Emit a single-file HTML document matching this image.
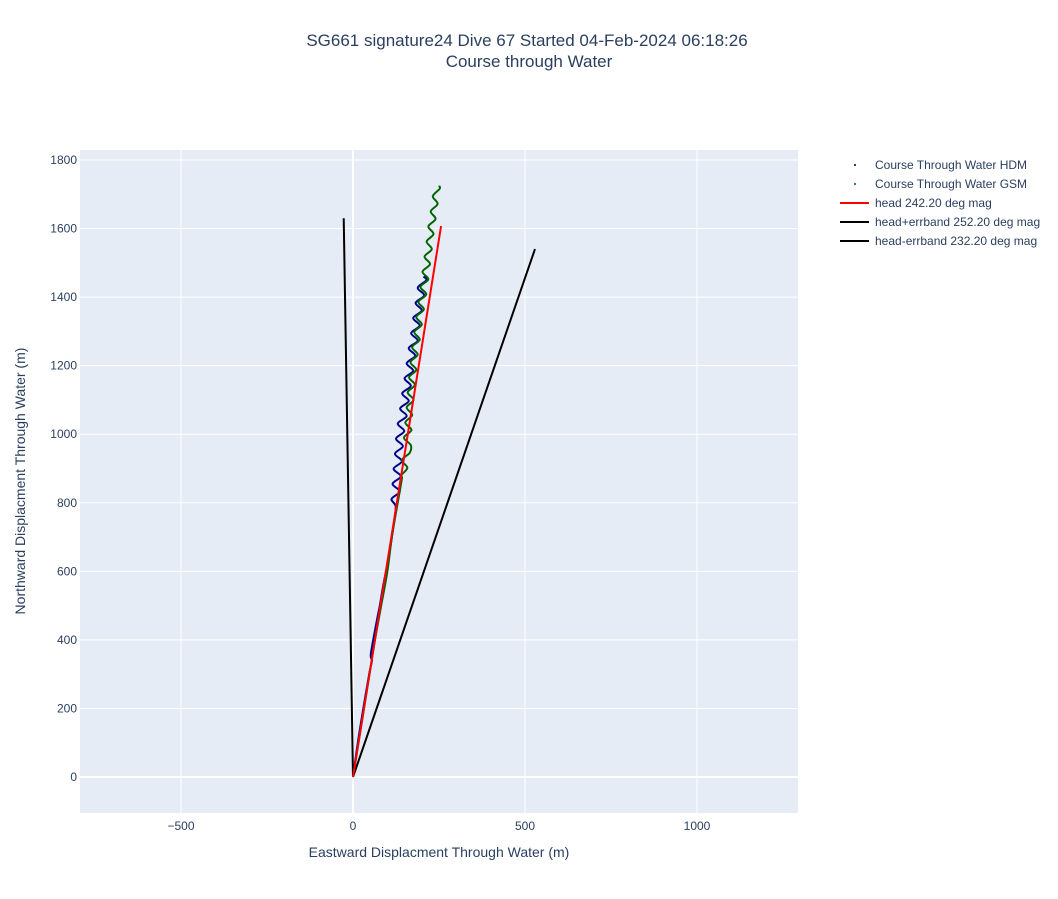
<!DOCTYPE html>
<html><head><meta charset="utf-8"><style>
body{margin:0;background:#fff;font-family:"Liberation Sans",sans-serif}
svg text{font-family:"Liberation Sans",sans-serif;fill:#2a3f5f}
</style></head><body>
<svg id="chart" width="1058" height="894" xmlns="http://www.w3.org/2000/svg">
<text x="527" y="46" font-size="17" text-anchor="middle">SG661 signature24 Dive 67 Started 04-Feb-2024 06:18:26</text>
<text x="529" y="67" font-size="17" text-anchor="middle">Course through Water</text>
<rect x="80" y="150" width="718" height="663" fill="#e5ecf6"/>
<g id="grid"></g><g id="ticks"></g><g id="series"></g>
<text x="439" y="857" font-size="14" text-anchor="middle">Eastward Displacment Through Water (m)</text>
<text transform="translate(25,481) rotate(-90)" font-size="14" text-anchor="middle">Northward Displacment Through Water (m)</text>
<g id="legend"></g>
</svg>
<script>
const xTicks=[-500,0,500,1000];
const yTicks=[0,200,400,600,800,1000,1200,1400,1600,1800];
const hdmE=[0,14,30,47,55,52,70,78,88,100,110,120,124,112,136,115,139,118,142,122,145,125,149,130,156,137,162,143,168,150,175,156,181,162,188,169,194,175,200,182,207,188,213,205];
const hdmN=[0,100,200,300,340,360,460,500,560,620,680,750,790,811,833,855,877,899,921,943,965,987,1009,1031,1053,1075,1097,1119,1141,1163,1185,1207,1229,1251,1273,1295,1317,1339,1361,1383,1405,1427,1449,1460];
const gsmE=[0,16,32,48,64,82,100,113,130,142,140,158,142,165,168,148,170,152,172,156,176,159,180,163,184,167,188,172,194,178,200,184,206,190,213,196,219,202,224,208,229,214,234,219,240,226,246,232,252,250];
const gsmN=[0,100,200,300,400,500,600,700,800,870,880,902,924,946,968,990,1012,1034,1056,1078,1100,1122,1144,1166,1188,1210,1232,1254,1276,1298,1320,1342,1364,1386,1408,1430,1452,1474,1496,1518,1540,1562,1584,1606,1628,1650,1672,1694,1716,1725];
const headE=[0,256];const headN=[0,1607];
const plusE=[0,-27];const plusN=[0,1630];
const minusE=[0,529];const minusN=[0,1540];
const X=v=>353+v*0.344, Y=v=>777-v*0.3428;
const NS="http://www.w3.org/2000/svg";
function mk(t,a,p){const e=document.createElementNS(NS,t);for(const k in a)e.setAttribute(k,a[k]);p.appendChild(e);return e;}
const grid=document.getElementById('grid'),ticks=document.getElementById('ticks'),ser=document.getElementById('series'),leg=document.getElementById('legend');
xTicks.forEach(v=>{const l=mk('line',{x1:X(v),x2:X(v),y1:150,y2:813,stroke:'#fff','stroke-width':v==0?2:1},grid);


const t=mk('text',{x:X(v),y:830,'font-size':12,'text-anchor':'middle'},ticks);t.textContent=v<0?'\u2212'+(-v):v;

});
yTicks.forEach(v=>{const l=mk('line',{x1:80,x2:798,y1:Y(v),y2:Y(v),stroke:'#fff','stroke-width':v==0?2:1},grid);


const t=mk('text',{x:77,y:Y(v)+4,'font-size':12,'text-anchor':'end'},ticks);t.textContent=v;

});
function smooth(P){let d='M'+P[0][0]+','+P[0][1];
for(let i=0;i<P.length-1;i++){const p0=P[i-1]||P[i],p1=P[i],p2=P[i+1],p3=P[i+2]||p2;
const c1=[p1[0]+(p2[0]-p0[0])/6,p1[1]+(p2[1]-p0[1])/6],c2=[p2[0]-(p3[0]-p1[0])/6,p2[1]-(p3[1]-p1[1])/6];
d+=' C'+c1.join(',')+' '+c2.join(',')+' '+p2.join(',');}return d;}
function line(E,N,c,name){const P=E.map((e,i)=>[X(e),Y(N[i])]);
const p=mk('path',{d:smooth(P),fill:'none',stroke:c,'stroke-width':2},ser);

}
line(plusE,plusN,'#000','head-plus-errband-line');
line(minusE,minusN,'#000','head-minus-errband-line');
line(hdmE,hdmN,'#00008b','course-hdm-line');
line(gsmE,gsmN,'#006400','course-gsm-line');
line(headE,headN,'#ff0000','head-line');
const items=[['Course Through Water HDM','#000',true],['Course Through Water GSM','#006400',true],['head 242.20 deg mag','#ff0000',false],['head+errband 252.20 deg mag','#000',false],['head-errband 232.20 deg mag','#000',false]];
items.forEach((it,i)=>{const y=166+i*19;
if(it[2]){const c=mk('circle',{cx:855,cy:y-1,r:1,fill:it[1]},leg);}
else{const l=mk('line',{x1:840,x2:869,y1:y-1,y2:y-1,stroke:it[1],'stroke-width':2},leg);}
const t=mk('text',{x:875,y:y+3,'font-size':12},leg);t.textContent=it[0];

});
</script>
</body></html>
